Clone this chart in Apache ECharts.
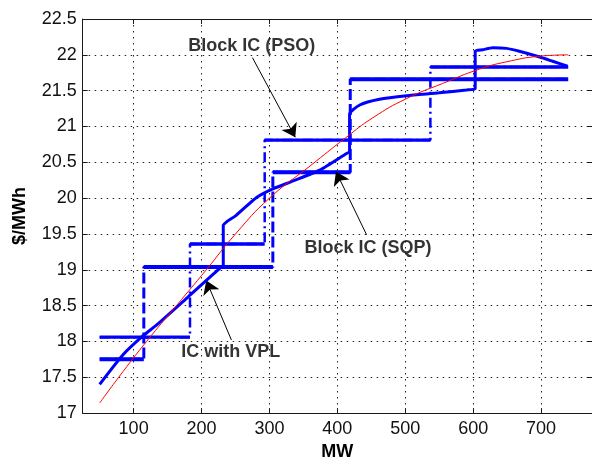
<!DOCTYPE html>
<html>
<head>
<meta charset="utf-8">
<script src="https://cdn.jsdelivr.net/npm/echarts@6/dist/echarts.min.js"></script>
<style>
  html, body { margin: 0; padding: 0; background: #fff; }
  #main { width: 592px; height: 466px; }
</style>
</head>
<body>
<div id="main"></div>
<script>
var chartDom = document.getElementById('main');
var myChart = echarts.init(chartDom);
var option;

// IC with valve point loading (thick blue curve)
const vplMW = [50, 85, 114, 134, 180, 228, 232, 232, 237, 251, 281, 305, 335, 374, 413, 418,
  418, 433, 462, 502, 550, 590, 603, 603, 614, 629, 649, 668, 698, 717, 739];
const vplIC = [17.40, 17.82, 18.08, 18.23, 18.62, 19.03, 19.05, 19.62, 19.67, 19.76, 20.01, 20.13, 20.24, 20.39, 20.62, 20.65,
  21.17, 21.30, 21.38, 21.43, 21.47, 21.51, 21.53, 22.05, 22.07, 22.10, 22.09, 22.05, 21.97, 21.91, 21.84];

// smooth IC (thin red curve)
const fitMW = [50, 78, 119, 163, 207, 250, 300, 360, 412, 452, 502, 555, 609, 648, 697, 740];
const fitIC = [17.14, 17.50, 18.00, 18.50, 19.00, 19.50, 20.00, 20.45, 20.84, 21.12, 21.39, 21.60, 21.80, 21.90, 21.98, 22.00];

// block IC, PSO
const psoMW = [50, 183, 293, 537, 740];
const psoIC = [18.06, 19.36, 20.81, 21.83];

// block IC, SQP
const sqpMW = [50, 115, 305, 419, 740];
const sqpIC = [17.75, 19.04, 20.36, 21.66];

// annotations
const noteText = ['Block IC (PSO)', 'Block IC (SQP)', 'IC with VPL'];
const noteAt = [[274, 22.12], [445, 19.30], [243, 17.85]];
const arrowFrom = [[275, 21.96], [443, 19.49], [244, 18.02]];
const arrowTo = [[338, 20.85], [398, 20.37], [207, 18.85]];

const font = "Arial, 'Liberation Sans', sans-serif";

function pairs(xs, ys) {
  return xs.map((x, i) => [x, ys[i]]);
}

function stairs(xs, ys) {
  const pts = [];
  ys.forEach((y, i) => {
    pts.push([xs[i], y]);
    pts.push([xs[i + 1], y]);
  });
  return pts;
}

function flats(xs, ys, width) {
  return ys.map((y, i) => ({
    type: 'line',
    data: [[xs[i], y], [xs[i + 1], y]],
    showSymbol: false,
    lineStyle: { color: '#0000ff', width: width, cap: 'butt' },
    z: 4
  }));
}

const axisLine = { show: true, lineStyle: { color: '#1a1a1a', width: 1 } };
const tickIn = { show: true, inside: true, length: 5, lineStyle: { color: '#1a1a1a' } };

option = {
  animation: false,
  backgroundColor: '#fff',
  grid: { left: 82.7, top: 19, right: -0.7, bottom: 46.7 },
  xAxis: [
    {
      type: 'value',
      min: 25,
      max: 775,
      splitNumber: 7,
      position: 'bottom',
      name: 'MW',
      nameLocation: 'middle',
      nameGap: 28,
      nameTextStyle: { fontFamily: font, fontSize: 18, fontWeight: 'bold', color: '#000' },
      axisLine: axisLine,
      axisTick: tickIn,
      axisLabel: {
        fontFamily: font, fontSize: 18, color: '#111', margin: 7,
        showMinLabel: false, showMaxLabel: false
      },
      splitLine: { show: true, lineStyle: { color: '#222', width: 1, type: [1.5, 4.5] } }
    },
    {
      type: 'value',
      min: 25,
      max: 775,
      splitNumber: 7,
      position: 'top',
      axisLine: axisLine,
      axisTick: tickIn,
      axisLabel: { show: false },
      splitLine: { show: false }
    }
  ],
  yAxis: [
    {
      type: 'value',
      min: 17,
      max: 22.5,
      interval: 0.5,
      position: 'left',
      name: '$/MWh',
      nameLocation: 'middle',
      nameRotate: 90,
      nameGap: 54,
      nameTextStyle: { fontFamily: font, fontSize: 18, fontWeight: 'bold', color: '#000' },
      axisLine: axisLine,
      axisTick: tickIn,
      axisLabel: { fontFamily: font, fontSize: 18, color: '#111', margin: 6 },
      splitLine: { show: true, lineStyle: { color: '#222', width: 1, type: [1.5, 4.5] } }
    },
    {
      type: 'value',
      min: 17,
      max: 22.5,
      interval: 0.5,
      position: 'right',
      axisLine: axisLine,
      axisTick: tickIn,
      axisLabel: { show: false },
      splitLine: { show: false }
    }
  ],
  series: [
    {
      name: 'PSO steps',
      type: 'line',
      data: stairs(psoMW, psoIC),
      showSymbol: false,
      lineStyle: { color: '#0000ff', width: 2.5, type: [10, 4, 2, 4] },
      z: 3
    },
    {
      name: 'SQP steps',
      type: 'line',
      data: stairs(sqpMW, sqpIC),
      showSymbol: false,
      lineStyle: { color: '#0000ff', width: 3, type: [11, 4] },
      z: 3
    },
    ...flats(psoMW, psoIC, 3.3),
    ...flats(sqpMW, sqpIC, 4),
    {
      name: 'IC with VPL',
      type: 'line',
      data: pairs(vplMW, vplIC),
      showSymbol: false,
      smooth: 0.2,
      lineStyle: { color: '#0000ff', width: 3 },
      z: 5
    },
    {
      name: 'IC',
      type: 'line',
      data: pairs(fitMW, fitIC),
      showSymbol: false,
      smooth: true,
      lineStyle: { color: '#ff0000', width: 1 },
      z: 6
    },
    {
      name: 'notes',
      type: 'scatter',
      symbolSize: 0,
      data: noteAt.map((p, i) => [p[0], p[1], noteText[i]]),
      label: {
        show: true,
        position: 'inside',
        formatter: (p) => p.data[2],
        fontFamily: font,
        fontSize: 18,
        fontWeight: 'bold',
        color: '#000'
      },
      markLine: {
        silent: true,
        symbol: ['none', 'arrow'],
        symbolSize: 13,
        label: { show: false },
        lineStyle: { color: '#000', width: 1, type: 'solid' },
        data: arrowFrom.map((a, i) => [{ coord: a }, { coord: arrowTo[i] }])
      },
      z: 7
    }
  ]
};

option && myChart.setOption(option);
</script>
</body>
</html>
